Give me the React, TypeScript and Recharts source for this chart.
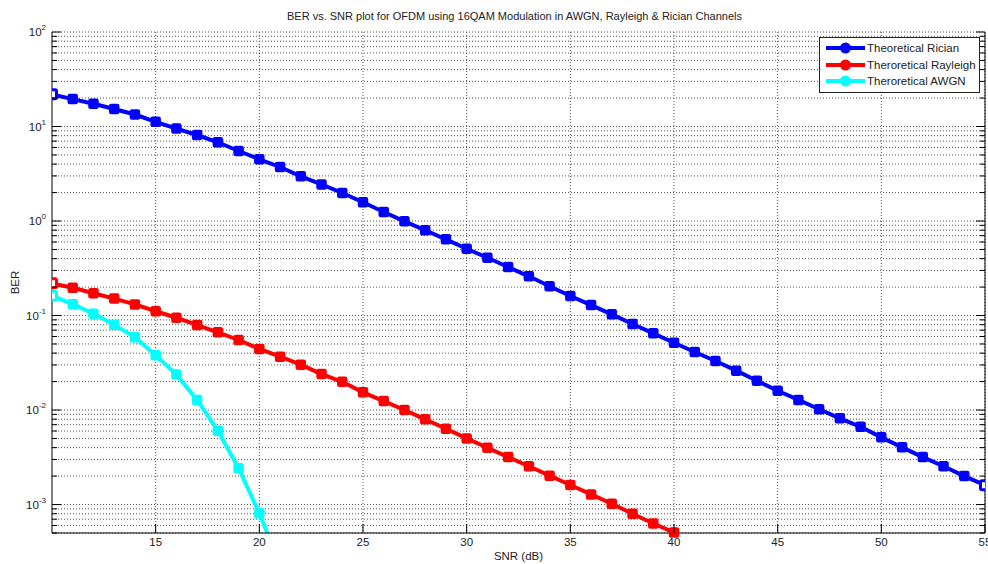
import React from 'react';
import { LineChart, Line, XAxis, YAxis, CartesianGrid } from 'recharts';

const snr = [10, 11, 12, 13, 14, 15, 16, 17, 18, 19, 20, 21, 22, 23, 24, 25, 26, 27, 28, 29, 30, 31, 32, 33, 34, 35, 36, 37, 38, 39, 40, 41, 42, 43, 44, 45, 46, 47, 48, 49, 50, 51, 52, 53, 54, 55];
const rician = [21.9, 19.5, 17.4, 15.3, 13.4, 11.2, 9.5, 8.13, 6.81, 5.51, 4.5, 3.73, 2.97, 2.44, 1.98, 1.58, 1.245, 0.993, 0.798, 0.64, 0.509, 0.409, 0.326, 0.26, 0.204, 0.161, 0.129, 0.103, 0.0813, 0.0648, 0.0515, 0.0411, 0.033, 0.0261, 0.0204, 0.016, 0.0128, 0.0102, 0.00817, 0.00665, 0.00514, 0.00403, 0.00318, 0.00254, 0.002, 0.0016];
const rayleigh = [0.219, 0.197, 0.172, 0.151, 0.131, 0.111, 0.0948, 0.0793, 0.0664, 0.0551, 0.0443, 0.0367, 0.0302, 0.024, 0.0199, 0.0154, 0.01245, 0.01, 0.00798, 0.00634, 0.00501, 0.00399, 0.00318, 0.00254, 0.00202, 0.00161, 0.00128, 0.00102, 0.0008, 0.00063, 0.000507];
const awgn = [0.162, 0.132, 0.1045, 0.08, 0.0588, 0.0379, 0.0237, 0.01277, 0.00603, 0.00242, 0.000807, 0.00023];
const xTicks = [15, 20, 25, 30, 35, 40, 45, 50, 55];
const xDomain = [10, 55];
const yDomain = [0.0005, 100];
const seriesNames = ['Theoretical Rician', 'Theroretical Rayleigh', 'Theroretical AWGN'];
const seriesKeys = ['rician', 'rayleigh', 'awgn'];
const seriesColors = ['#0000FF', '#FF0000', '#00FFFF'];
const title = 'BER vs. SNR plot for OFDM using 16QAM Modulation in AWGN, Rayleigh & Rician Channels';
const xLabel = 'SNR (dB)';
const yLabel = 'BER';

const yTicks: number[] = [];
for (let d = -4; d <= 2; d++) {
  for (let k = 1; k <= 9; k++) {
    const v = parseFloat((k * Math.pow(10, d)).toPrecision(6));
    if (v >= yDomain[0] - 1e-12 && v <= yDomain[1] + 1e-9) yTicks.push(v);
  }
}
const isDecade = (v: number) => Math.abs(Math.log10(v) - Math.round(Math.log10(v))) < 1e-9;
const inRange = (v: number | undefined) =>
  v !== undefined && v >= yDomain[0] && v <= yDomain[1] ? v : undefined;

const seriesArrays = [rician, rayleigh, awgn];
const rows = snr.map((x, i) => {
  const r: any = { snr: x };
  seriesKeys.forEach((k, j) => {
    r[k] = seriesArrays[j][i];
    r[k + 'M'] = inRange(seriesArrays[j][i]);
  });
  return r;
});

const FONT = '"Liberation Sans", Arial, Helvetica, sans-serif';
const TXT = '#222';

const LeftTick = (props: any) => {
  const { x, y, payload } = props;
  const v = payload.value;
  const major = isDecade(v);
  const e = Math.round(Math.log10(v));
  return (
    <g>
      <line x1={x} x2={x + (major ? 9 : 5)} y1={y} y2={y} stroke="#000" strokeWidth={1} />
      {major && (
        <text x={x - 6} y={y} textAnchor="end" fontFamily={FONT} fontSize={11.5} fill={TXT} dy="0.36em">
          10
          <tspan fontSize={8} dy={-6}>{String(e)}</tspan>
        </text>
      )}
    </g>
  );
};

const RightTick = (props: any) => {
  const { x, y, payload } = props;
  const major = isDecade(payload.value);
  return <line x1={x} x2={x - (major ? 9 : 5)} y1={y} y2={y} stroke="#000" strokeWidth={1} />;
};

const BottomTick = (props: any) => {
  const { x, y, payload } = props;
  return (
    <g>
      <line x1={x} x2={x} y1={y} y2={y - 9} stroke="#000" strokeWidth={1} />
      <text x={x} y={y + 4} textAnchor="middle" fontFamily={FONT} fontSize={11.5} fill={TXT} dy="0.8em">
        {payload.value}
      </text>
    </g>
  );
};

const TopTick = (props: any) => {
  const { x, y } = props;
  return <line x1={x} x2={x} y1={y} y2={y + 9} stroke="#000" strokeWidth={1} />;
};

const makeDot = (color: string) => (props: any) => {
  const { cx, cy, index, payload } = props;
  if (cx == null || cy == null || payload == null) return <g key={index} />;
  const edge = payload.snr === xDomain[0] || payload.snr === xDomain[1];
  return (
    <rect
      key={index}
      x={cx - 4.5}
      y={cy - 4.5}
      width={9}
      height={9}
      rx={1.5}
      fill={edge ? '#fff' : color}
      stroke={color}
      strokeWidth={edge ? 3 : 1.5}
    />
  );
};

const LegendBox = () => (
  <div
    style={{
      position: 'absolute',
      left: 819,
      top: 37,
      width: 161,
      height: 56,
      border: '1px solid #222',
      background: '#fff',
      boxSizing: 'border-box',
      paddingTop: 2,
    }}
  >
    {seriesNames.map((n, i) => (
      <div key={n} style={{ display: 'flex', alignItems: 'center', height: 16.5 }}>
        <svg width={47} height={14} style={{ flex: 'none' }}>
          <line x1={6} x2={45} y1={7} y2={7} stroke={seriesColors[i]} strokeWidth={4} />
          <circle cx={25.5} cy={7} r={5.5} fill={seriesColors[i]} />
        </svg>
        <span style={{ fontFamily: FONT, fontSize: 11.5, color: TXT, whiteSpace: 'nowrap' }}>{n}</span>
      </div>
    ))}
  </div>
);

export default function App() {
  return (
    <div style={{ position: 'relative', width: 988, height: 564, background: '#fff' }}>
      <style>{`body{margin:0;background:#fff}`}</style>
      <LineChart width={988} height={564} data={rows} margin={{ top: 32, right: 0, bottom: 0, left: 0 }}>
        <CartesianGrid stroke="#555" strokeDasharray="1 2" strokeWidth={1} horizontalValues={yTicks} verticalValues={xTicks} />
        <XAxis
          dataKey="snr"
          type="number"
          domain={xDomain}
          ticks={xTicks}
          allowDataOverflow
          height={31}
          tickSize={0}
          tickMargin={0}
          tick={<BottomTick />}
          axisLine={{ stroke: '#000' }}
          interval={0}
        />
        <XAxis
          xAxisId="top"
          dataKey="snr"
          type="number"
          orientation="top"
          domain={xDomain}
          ticks={xTicks}
          allowDataOverflow
          height={0}
          tickSize={0}
          tickMargin={0}
          tick={<TopTick />}
          axisLine={{ stroke: '#000' }}
          interval={0}
        />
        <YAxis
          scale="log"
          type="number"
          domain={yDomain}
          ticks={yTicks}
          allowDataOverflow
          width={52}
          tickSize={0}
          tickMargin={0}
          tick={<LeftTick />}
          axisLine={{ stroke: '#000' }}
          interval={0}
          label={{ value: yLabel, angle: -90, position: 'insideLeft', offset: 15, style: { fontFamily: FONT, fontSize: 11.5, fill: TXT, textAnchor: 'middle' } }}
        />
        <YAxis
          yAxisId="right"
          orientation="right"
          scale="log"
          type="number"
          domain={yDomain}
          ticks={yTicks}
          allowDataOverflow
          width={3}
          tickSize={0}
          tickMargin={0}
          tick={<RightTick />}
          axisLine={{ stroke: '#000' }}
          interval={0}
        />
        <YAxis yAxisId="m" hide scale="log" type="number" domain={yDomain} />
        {seriesKeys.map((k, i) => (
          <Line
            key={k}
            dataKey={k}
            name={seriesNames[i]}
            stroke={seriesColors[i]}
            strokeWidth={4}
            dot={false}
            activeDot={false}
            isAnimationActive={false}
            legendType="none"
          />
        ))}
        {seriesKeys.map((k, i) => (
          <Line
            key={k + 'M'}
            yAxisId="m"
            dataKey={k + 'M'}
            stroke="none"
            strokeWidth={0}
            dot={makeDot(seriesColors[i])}
            activeDot={false}
            isAnimationActive={false}
            legendType="none"
          />
        ))}
      </LineChart>
      <div
        style={{
          position: 'absolute',
          top: 10,
          left: 48,
          width: 933,
          textAlign: 'center',
          fontFamily: FONT,
          fontSize: 11,
          color: TXT,
          whiteSpace: 'nowrap',
        }}
      >
        {title}
      </div>
      <div
        style={{
          position: 'absolute',
          top: 550,
          left: 52,
          width: 933,
          textAlign: 'center',
          fontFamily: FONT,
          fontSize: 11.5,
          color: TXT,
        }}
      >
        {xLabel}
      </div>
      <LegendBox />
    </div>
  );
}
